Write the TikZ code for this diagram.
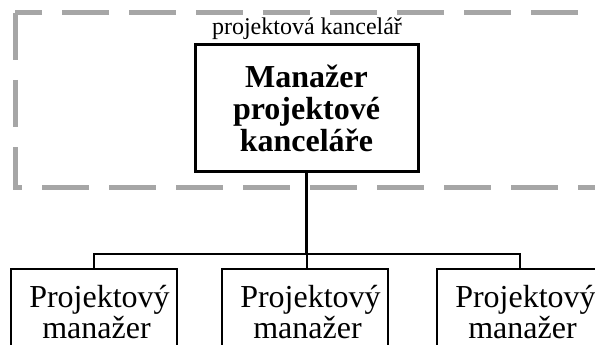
\documentclass[tikz,border=0pt]{standalone}
\usepackage{fontspec}
\setmainfont{Liberation Serif}
\usepackage{xcolor}
\usepackage{tikz}
\usetikzlibrary{positioning}
\definecolor{pmogray}{RGB}{166,166,166}
\newcommand{\pmtext}{\hspace*{12pt}Projektový\\\hspace*{6pt}manažer}

\begin{document}
\begin{tikzpicture}[x=1pt,y=1pt,node distance=95pt,
          office/.style={draw=pmogray,line width=5pt,
                         dash pattern=on 47pt off 20pt},
          lead/.style={draw,line width=3pt,minimum width=223pt,
                       minimum height=126pt,align=center,
                       font=\fontsize{32}{32}\selectfont\bfseries},
          pmbox/.style={draw,line width=2pt,minimum width=166pt,
                        minimum height=88pt,align=center,
                        font=\fontsize{32}{31}\selectfont},
          link/.style={line width=2pt}]
        \useasboundingbox (0,0) rectangle (595,-345);
        % projektova kancelar
        \draw[office] (15,-13) rectangle (625,-187);
        \node[anchor=base,font=\fontsize{24}{24}\selectfont] (pmo)
          at (307,-35) {projektová kancelář};
        \node[lead] (mgr) at (306.5,-108) {Manažer\\projektové\\kanceláře};
        % projektovi manazeri
        \node[pmbox,below=95pt of mgr,xshift=-2pt] (pm2) {\pmtext};
        \node[pmbox,left=43pt of pm2] (pm1) {\pmtext};
        \node[pmbox,right=47pt of pm2] (pm3) {\pmtext};
        \coordinate[below=81.5pt of mgr] (bus);
        \draw[link,line width=2.5pt] (mgr) -- (bus);
        \draw[link] (pm1.north) |- (bus) -| (pm3.north);
        \draw[link] (bus) -- (bus |- pm2.north);
      \end{tikzpicture}
\end{document}
